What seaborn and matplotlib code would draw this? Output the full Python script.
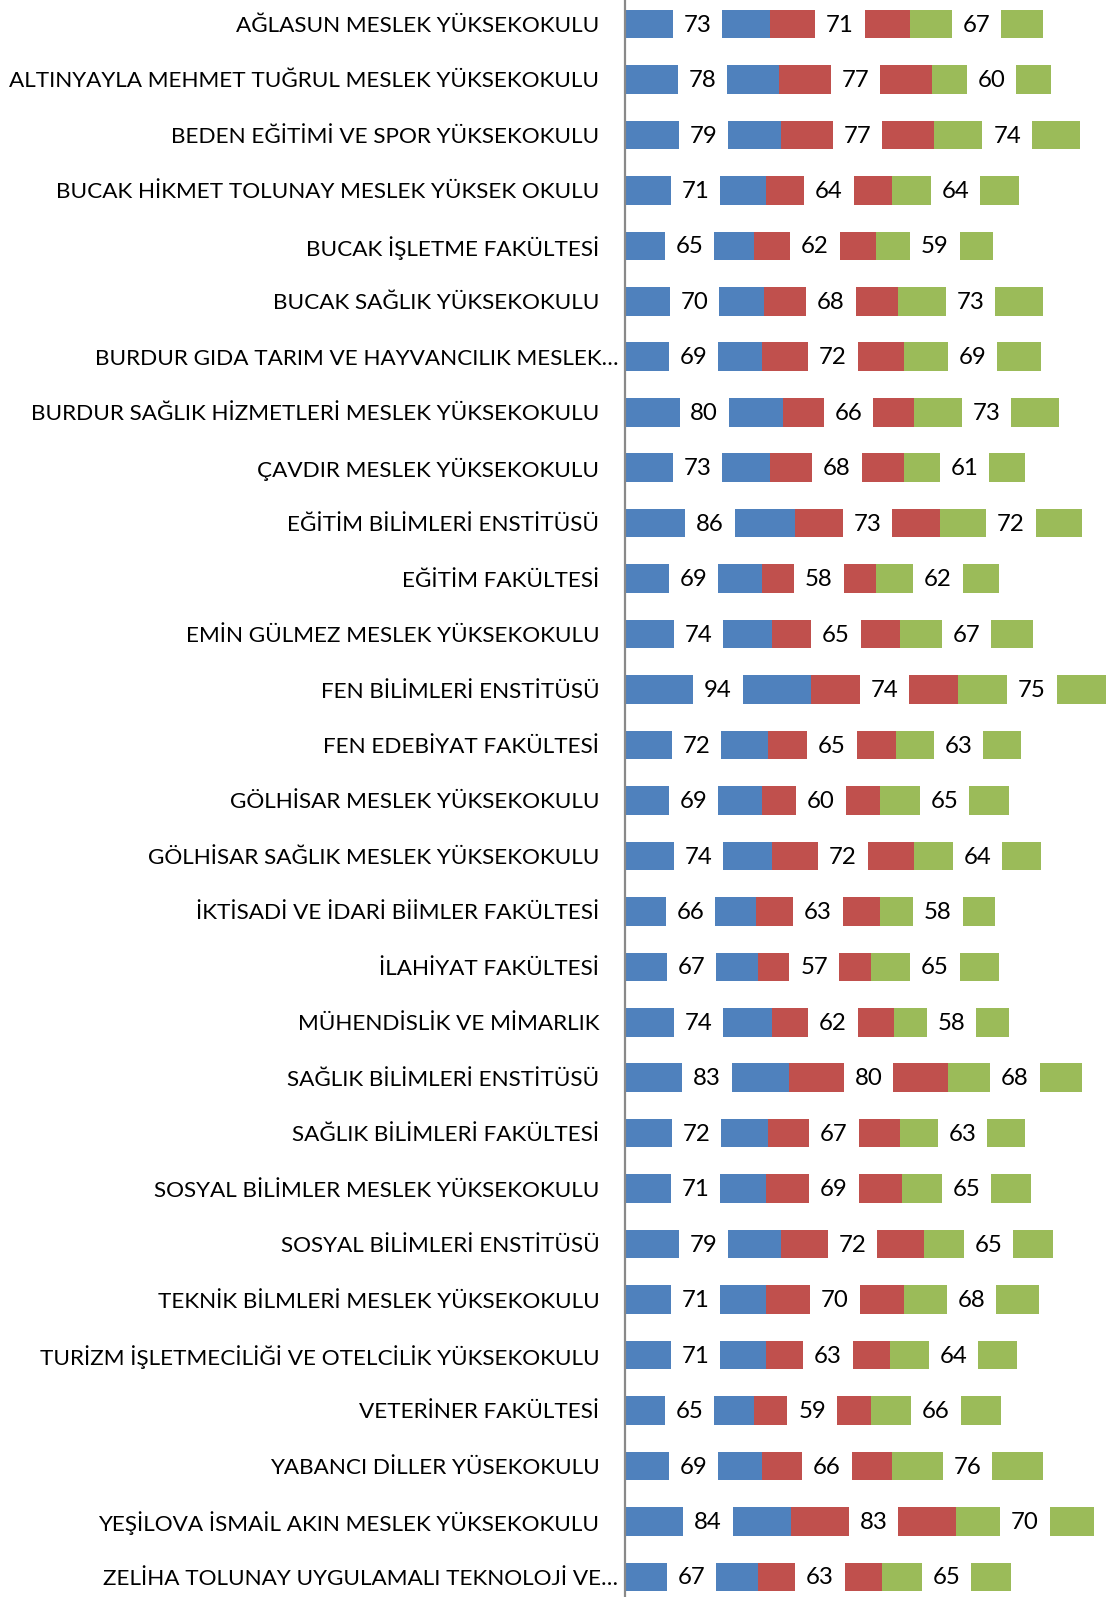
import numpy as np
import pandas as pd
import matplotlib
matplotlib.use("Agg")
import matplotlib.pyplot as plt
import matplotlib.transforms as mtransforms
import seaborn as sns

categories = [
    "AĞLASUN MESLEK YÜKSEKOKULU",
    "ALTINYAYLA MEHMET TUĞRUL MESLEK YÜKSEKOKULU",
    "BEDEN EĞİTİMİ VE SPOR YÜKSEKOKULU",
    "BUCAK HİKMET TOLUNAY MESLEK YÜKSEK OKULU",
    "BUCAK İŞLETME FAKÜLTESİ",
    "BUCAK SAĞLIK YÜKSEKOKULU",
    "BURDUR GIDA TARIM VE HAYVANCILIK MESLEK…",
    "BURDUR SAĞLIK HİZMETLERİ MESLEK YÜKSEKOKULU",
    "ÇAVDIR MESLEK YÜKSEKOKULU",
    "EĞİTİM BİLİMLERİ ENSTİTÜSÜ",
    "EĞİTİM FAKÜLTESİ",
    "EMİN GÜLMEZ MESLEK YÜKSEKOKULU",
    "FEN BİLİMLERİ ENSTİTÜSÜ",
    "FEN EDEBİYAT FAKÜLTESİ",
    "GÖLHİSAR MESLEK YÜKSEKOKULU",
    "GÖLHİSAR SAĞLIK MESLEK YÜKSEKOKULU",
    "İKTİSADİ VE İDARİ BİİMLER FAKÜLTESİ",
    "İLAHİYAT FAKÜLTESİ",
    "MÜHENDİSLİK VE MİMARLIK",
    "SAĞLIK BİLİMLERİ ENSTİTÜSÜ",
    "SAĞLIK BİLİMLERİ FAKÜLTESİ",
    "SOSYAL BİLİMLER MESLEK YÜKSEKOKULU",
    "SOSYAL BİLİMLERİ ENSTİTÜSÜ",
    "TEKNİK BİLMLERİ MESLEK YÜKSEKOKULU",
    "TURİZM İŞLETMECİLİĞİ VE OTELCİLİK YÜKSEKOKULU",
    "VETERİNER FAKÜLTESİ",
    "YABANCI DİLLER YÜSEKOKULU",
    "YEŞİLOVA İSMAİL AKIN MESLEK YÜKSEKOKULU",
    "ZELİHA TOLUNAY UYGULAMALI TEKNOLOJİ VE…",
]
series1 = [73, 78, 79, 71, 65, 70, 69, 80, 73, 86, 69, 74, 94, 72, 69, 74, 66, 67, 74, 83, 72, 71, 79, 71, 71, 65, 69, 84, 67]
series2 = [71, 77, 77, 64, 62, 68, 72, 66, 68, 73, 58, 65, 74, 65, 60, 72, 63, 57, 62, 80, 67, 69, 72, 70, 63, 59, 66, 83, 63]
series3 = [67, 60, 74, 64, 59, 73, 69, 73, 61, 72, 62, 67, 75, 63, 65, 64, 58, 65, 58, 68, 63, 65, 65, 68, 64, 66, 76, 70, 65]
colors = ["#4F81BD", "#C0504D", "#9BBB59"]

df = pd.DataFrame({"cat": categories, "s1": series1, "s2": series2, "s3": series3})
df["c1"] = df["s1"]
df["c2"] = df["s1"] + df["s2"]
df["c3"] = df["c2"] + df["s3"]

sns.set_theme(style="white")
FONT = ["Lato", "DejaVu Sans"]
plt.rcParams["font.family"] = FONT

W, H = 1109, 1597
ROW = 55.46
fig = plt.figure(figsize=(W / 100, H / 100), dpi=100)
ax_left = 625 / W
ax = fig.add_axes([ax_left, 0, 1 - ax_left, 1])

# overlay cumulative bars (largest first) to get stacked look
for col, c in [("c3", colors[2]), ("c2", colors[1]), ("c1", colors[0])]:
    sns.barplot(data=df, x=col, y="cat", orient="h", color=c, width=0.515,
                saturation=1, ax=ax, linewidth=0)

# labels in the centre of each segment, with white boxes
fs = 17.3
n = len(df)
for i in range(n):
    starts = [0, df["c1"][i], df["c2"][i]]
    vals = [df["s1"][i], df["s2"][i], df["s3"][i]]
    for s, v in zip(starts, vals):
        ax.text(s + v / 2, i + 0.02, f"{v}", ha="center", va="center", fontsize=fs,
                color="black",
                bbox=dict(boxstyle="square,pad=0.45", facecolor="white", edgecolor="none"))

xmax = (W - 625) / 1.98
ax.set_xlim(0, xmax)
ax.set_ylim((H - 24) / ROW, -24 / ROW)
ax.set_xlabel("")
ax.set_ylabel("")
ax.set_xticks([])
ax.tick_params(axis="y", length=0, pad=18.5, labelsize=16.2)
for lab in ax.get_yticklabels():
    lab.set_color("black")
    if lab.get_text().endswith("…"):
        lab.set_transform(lab.get_transform() + mtransforms.ScaledTranslation(19 / 100, 0, fig.dpi_scale_trans))
for side in ["top", "right", "bottom"]:
    ax.spines[side].set_visible(False)
ax.spines["left"].set_color("#898989")
ax.spines["left"].set_linewidth(1.6)

fig.savefig("out.png", dpi=100)
